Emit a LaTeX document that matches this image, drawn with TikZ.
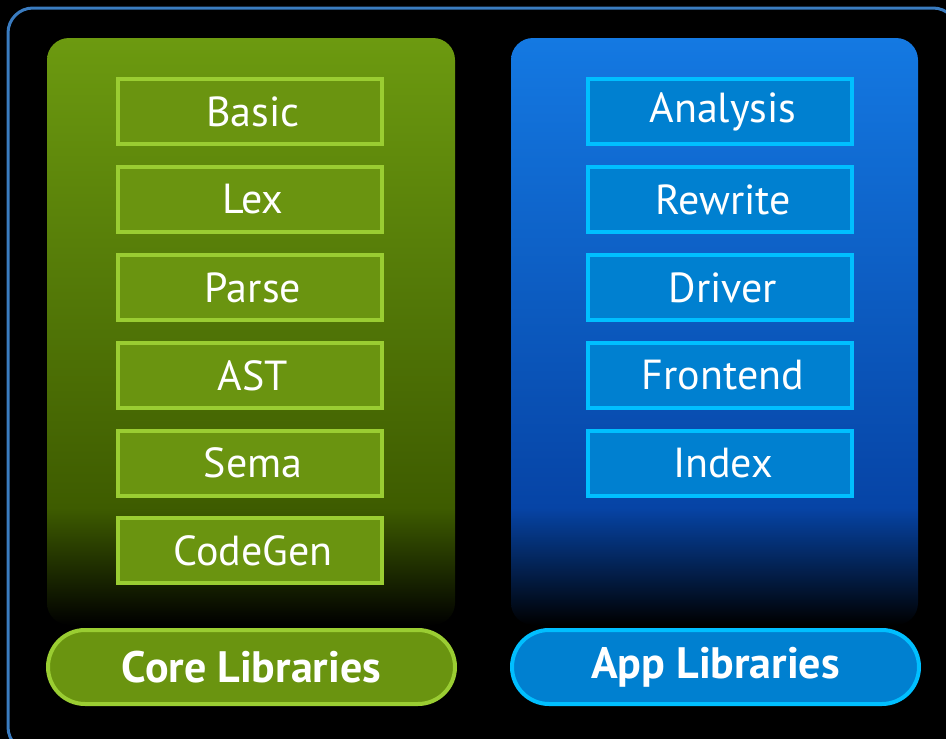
\documentclass[tikz,border=0pt]{standalone}
\usepackage{fontspec}
\setmainfont{PT Sans}
\usetikzlibrary{positioning}
\definecolor{gtop}{HTML}{6C9A10}
\definecolor{gmid}{HTML}{3E5C00}
\definecolor{btop}{HTML}{1479E2}
\definecolor{bmid}{HTML}{0644A6}
\definecolor{gfill}{HTML}{6A9410}
\definecolor{gline}{HTML}{9ACD32}
\definecolor{bfill}{HTML}{0080D0}
\definecolor{bline}{HTML}{00BFFF}
\definecolor{frame}{HTML}{3A7CC0}
\pgfdeclareverticalshading{greenpanel}{100bp}{color(0bp)=(black); color(25bp)=(black); color(35bp)=(gmid); color(75bp)=(gtop); color(100bp)=(gtop)}
\pgfdeclareverticalshading{bluepanel}{100bp}{color(0bp)=(black); color(25bp)=(black); color(35bp)=(bmid); color(75bp)=(btop); color(100bp)=(btop)}
\newcommand{\rs}{\hspace*{6pt}}
\tikzset{
  panel/.style={rounded corners=22pt, minimum height=587pt, inner sep=0pt},
  gbox/.style={draw=gline, fill=gfill, line width=4pt, minimum width=264pt, minimum height=65pt, inner sep=0pt, text=white, font=\fontsize{42}{46}\selectfont},
  bbox/.style={draw=bline, fill=bfill, line width=4pt, minimum width=264pt, minimum height=65pt, inner sep=0pt, text=white, font=\fontsize{42}{46}\selectfont},
  pill/.style={line width=4pt, minimum width=407pt, minimum height=74pt, rounded corners=37pt, inner sep=0pt, text=white, font=\bfseries\fontsize{44}{48}\selectfont},
}
\begin{document}
\begin{tikzpicture}[x=1pt,y=-1pt]
\fill[black] (0,0) rectangle (946,739);
\useasboundingbox (0,0) rectangle (946,739);
\draw[frame, line width=3pt, rounded corners=25pt] (8,8) rectangle (958,752);
% panels
\node[panel, shading=greenpanel, minimum width=408pt] (core) at (251,331.5) {};
\node[panel, shading=bluepanel, minimum width=407pt] (app) at (714.5,331.5) {};
% core boxes
\node[gbox] (basic) at (250,111.5) {\rs Basic};
\node[gbox] (lex) at (250,199.5) {\rs Lex};
\node[gbox] (parse) at (250,287.5) {\rs Parse};
\node[gbox] (ast) at (250,375.5) {\rs AST};
\node[gbox] (sema) at (250,463) {\rs Sema};
\node[gbox] (codegen) at (250,550.5) {\rs CodeGen};
% app boxes
\node[bbox] (analysis) at (720,111.5) {\rs Analysis};
\node[bbox] (rewrite) at (720,199.5) {\rs Rewrite};
\node[bbox] (driver) at (720,287.5) {\rs Driver};
\node[bbox] (frontend) at (720,375.5) {\rs Frontend};
\node[bbox] (index) at (720,463) {\rs Index};
% pills
\node[pill, draw=gline, fill=gfill] (corepill) at (251.5,667) {Core Libraries};
\node[pill, draw=bline, fill=bfill] (apppill) at (715.5,667) {App Libraries};
\end{tikzpicture}
\end{document}
